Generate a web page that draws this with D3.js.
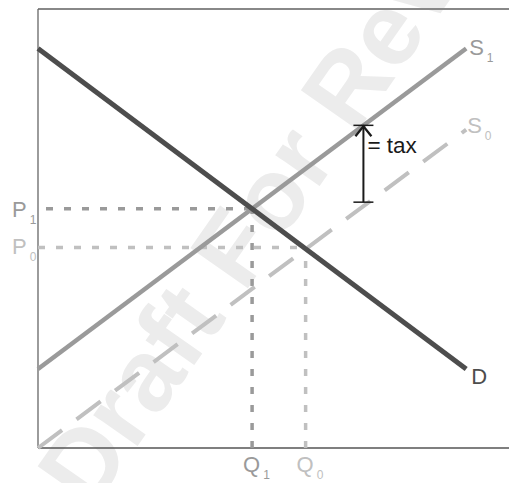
<!DOCTYPE html>
<html>
<head>
<meta charset="utf-8">
<script src="https://cdn.jsdelivr.net/npm/d3@7"></script>
<style>
  body { margin: 0; background: #fff; }
  svg text { font-family: "Liberation Sans", Arial, sans-serif; }
</style>
</head>
<body>
<svg id="chart" width="509" height="483"></svg>
<script>
// curves as [quantity, price] end points
var demand = [[0, 9.1], [10, 1.8]];
var supply1 = [[0, 1.8], [10, 9.1]];
var supply0 = [[0, 0], [10, 7.25]];

// equilibria: [quantity, price]
var eq1 = [5, 5.45];
var eq0 = [6.25, 4.57];

// tax gap between the two supply curves
var taxQ = 7.6;
var taxRange = [5.6, 7.35];

var svg = d3.select('#chart'),
  W = 509,
  H = 483;

var x = d3.scaleLinear().domain([0, 11]).range([38, 509]);
var y = d3.scaleLinear().domain([0, 10]).range([448, 9]);

var line = d3.line()
  .x(function(d) { return x(d[0]); })
  .y(function(d) { return y(d[1]); });

// watermark behind everything
svg.append('text')
  .attr('transform', 'translate(295,160) rotate(-55)')
  .attr('text-anchor', 'middle')
  .attr('dominant-baseline', 'central')
  .style('font-size', '102px')
  .style('font-weight', 'bold')
  .attr('fill', '#ececec')
  .text('Draft For Review');

// frame
svg.append('line')
  .attr('x1', x(0)).attr('x2', W)
  .attr('y1', y(10)).attr('y2', y(10))
  .attr('stroke', '#888').attr('stroke-width', 2);
svg.append('line')
  .attr('x1', x(0)).attr('x2', x(0))
  .attr('y1', y(10)).attr('y2', y(0))
  .attr('stroke', '#666').attr('stroke-width', 1.3);
svg.append('line')
  .attr('x1', x(0)).attr('x2', W)
  .attr('y1', y(0)).attr('y2', y(0))
  .attr('stroke', '#555').attr('stroke-width', 1.3);

// guide lines to the axes
function guides(pt, color, startX) {
  svg.append('line')
    .attr('x1', startX).attr('x2', x(pt[0]))
    .attr('y1', y(pt[1])).attr('y2', y(pt[1]))
    .attr('stroke', color).attr('stroke-width', 3.5)
    .attr('stroke-dasharray', '7,11');
  svg.append('line')
    .attr('x1', x(pt[0])).attr('x2', x(pt[0]))
    .attr('y1', y(0)).attr('y2', y(pt[1]))
    .attr('stroke', color).attr('stroke-width', 3.5)
    .attr('stroke-dasharray', '7,11');
}
guides(eq1, '#9a9a9a', 46);
guides(eq0, '#c0c0c0', 38);

// supply and demand curves
svg.append('path').datum(supply0)
  .attr('d', line).attr('fill', 'none')
  .attr('stroke', '#c0c0c0').attr('stroke-width', 4)
  .attr('stroke-dasharray', '30,18');
svg.append('path').datum(supply1)
  .attr('d', line).attr('fill', 'none')
  .attr('stroke', '#9a9a9a').attr('stroke-width', 4.5);
svg.append('path').datum(demand)
  .attr('d', line).attr('fill', 'none')
  .attr('stroke', '#4d4d4d').attr('stroke-width', 5);

// tax arrow
var tx = x(taxQ), tTop = y(taxRange[1]), tBot = y(taxRange[0]);
var arrow = svg.append('g').attr('stroke', '#1a1a1a').attr('fill', 'none');
arrow.append('line').attr('x1', tx).attr('x2', tx).attr('y1', tTop + 1).attr('y2', tBot).attr('stroke-width', 2);
arrow.append('line').attr('x1', tx - 10).attr('x2', tx + 10).attr('y1', tTop).attr('y2', tTop).attr('stroke-width', 1.5);
arrow.append('line').attr('x1', tx - 10).attr('x2', tx + 10).attr('y1', tBot).attr('y2', tBot).attr('stroke-width', 1.5);
arrow.append('path')
  .attr('d', 'M' + (tx - 8) + ',' + (tTop + 11) + 'L' + tx + ',' + (tTop + 1) + 'L' + (tx + 8) + ',' + (tTop + 11))
  .attr('stroke-width', 2.3);
svg.append('text')
  .attr('x', tx + 4).attr('y', tTop + 28)
  .style('font-size', '22.5px').attr('fill', '#1a1a1a')
  .text('= tax');

// labels with subscripts
function label(px, py, main, sub, color) {
  var t = svg.append('text').attr('x', px).attr('y', py)
    .style('font-size', '22px').attr('fill', color);
  t.append('tspan').text(main);
  if (sub) {
    t.append('tspan').attr('dx', 3).attr('dy', 7).style('font-size', '12px').text(sub);
  }
}
label(12, y(eq1[1]) + 8, 'P', '1', '#9a9a9a');
label(12, y(eq0[1]) + 7, 'P', '0', '#c0c0c0');
label(x(eq1[0]) - 9, 472, 'Q', '1', '#9a9a9a');
label(x(eq0[0]) - 9, 472, 'Q', '0', '#c0c0c0');
label(x(10) + 3, y(9.1) + 6, 'S', '1', '#9a9a9a');
label(x(10) + 1, y(7.25) + 3, 'S', '0', '#c0c0c0');
label(x(10) + 5, y(1.8) + 15, 'D', null, '#4d4d4d');
</script>
</body>
</html>
